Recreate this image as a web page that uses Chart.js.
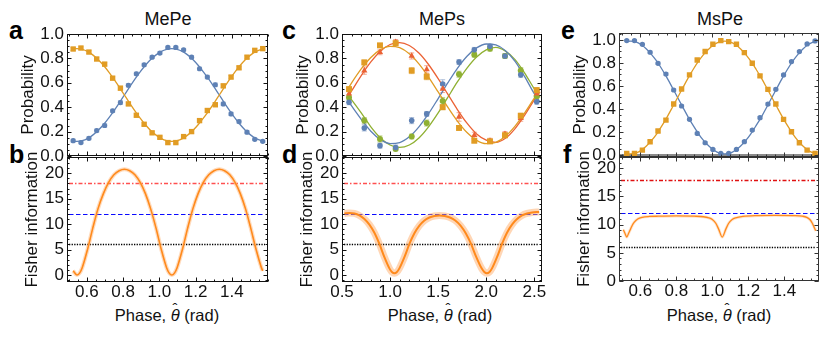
<!DOCTYPE html>
<html><head><meta charset="utf-8">
<script src="https://cdn.jsdelivr.net/npm/chart.js@4.4.1/dist/chart.umd.min.js"></script>
<style>
html,body{margin:0;padding:0;background:#fff;}
body{width:831px;height:337px;position:relative;overflow:hidden;font-family:"Liberation Sans",Arial,sans-serif;color:#111;}
canvas{position:absolute;}
.t{position:absolute;font-size:18px;line-height:18px;white-space:nowrap;transform:translateX(-50%);}
.l{position:absolute;font-size:25px;line-height:25px;font-weight:bold;color:#000;}
.xt{position:absolute;font-size:16.5px;line-height:16px;white-space:nowrap;transform:translateX(-50%);}
.th{font-style:italic;position:relative;display:inline-block;}
.hc{position:absolute;left:0.12em;top:-0.42em;font-style:normal;font-size:0.9em;}
</style></head><body>
<div class="t" style="left:168px;top:10px">MePe</div>
<div class="t" style="left:442px;top:10px">MePs</div>
<div class="t" style="left:720px;top:10px">MsPe</div>
<div class="l" style="left:9px;top:18px">a</div>
<div class="l" style="left:9px;top:142px">b</div>
<div class="l" style="left:282px;top:18px">c</div>
<div class="l" style="left:282px;top:142px">d</div>
<div class="l" style="left:561px;top:18px">e</div>
<div class="l" style="left:563px;top:142px">f</div>
<div class="xt" style="left:167px;top:307px">Phase, <span class="th">θ<span class="hc">ˆ</span></span> (rad)</div>
<div class="xt" style="left:440px;top:307px">Phase, <span class="th">θ<span class="hc">ˆ</span></span> (rad)</div>
<div class="xt" style="left:719px;top:307px">Phase, <span class="th">θ<span class="hc">ˆ</span></span> (rad)</div>
<canvas id="cA" width="280" height="170" style="left:0px;top:0px"></canvas>
<canvas id="cB" width="280" height="196" style="left:0px;top:141px"></canvas>
<canvas id="cC" width="280" height="170" style="left:275px;top:0px"></canvas>
<canvas id="cD" width="280" height="196" style="left:275px;top:141px"></canvas>
<canvas id="cE" width="279" height="170" style="left:552px;top:0px"></canvas>
<canvas id="cF" width="279" height="196" style="left:552px;top:141px"></canvas>
<script>
// ---------- data ----------
// Panel a (MePe): measured probabilities
const thetaA = [0.524,0.567,0.611,0.654,0.698,0.742,0.785,0.829,0.873,0.916,0.960,1.003,1.047,1.091,1.134,1.178,1.222,1.265,1.309,1.353,1.396,1.440,1.484,1.527,1.571];
const orangeA = [0.877,0.885,0.852,0.795,0.753,0.638,0.556,0.427,0.334,0.260,0.190,0.153,0.110,0.110,0.159,0.200,0.290,0.373,0.420,0.575,0.647,0.723,0.810,0.866,0.880];
const blueA = [0.126,0.110,0.145,0.208,0.250,0.370,0.438,0.580,0.674,0.748,0.810,0.844,0.890,0.890,0.871,0.810,0.715,0.647,0.584,0.427,0.345,0.282,0.195,0.137,0.120];
const errA = [0.012,0.010,0.012,0.013,0.014,0.013,0.015,0.014,0.013,0.012,0.011,0.010,0.010,0.010,0.011,0.012,0.013,0.014,0.015,0.014,0.013,0.013,0.012,0.011,0.010];
// Panel a fitted curves
const fitThetaA = [0.524,0.545,0.574,0.603,0.632,0.661,0.691,0.720,0.749,0.778,0.807,0.836,0.865,0.894,0.923,0.952,0.982,1.011,1.040,1.069,1.098,1.127,1.156,1.185,1.214,1.243,1.273,1.302,1.331,1.360,1.389,1.418,1.447,1.476,1.505,1.534,1.564,1.571];
const fitOrangeA = [0.877,0.880,0.874,0.857,0.829,0.791,0.744,0.690,0.630,0.566,0.500,0.434,0.370,0.310,0.256,0.209,0.171,0.143,0.126,0.120,0.126,0.143,0.171,0.209,0.256,0.310,0.370,0.434,0.500,0.566,0.630,0.690,0.744,0.791,0.829,0.857,0.874,0.877];
const fitBlueA = [0.123,0.120,0.126,0.143,0.171,0.209,0.256,0.310,0.370,0.434,0.500,0.566,0.630,0.690,0.744,0.791,0.829,0.857,0.874,0.880,0.874,0.857,0.829,0.791,0.744,0.690,0.630,0.566,0.500,0.434,0.370,0.310,0.256,0.209,0.171,0.143,0.126,0.123];
// Panel b: Fisher information
const fisherThetaB = [0.524,0.545,0.5595,0.574,0.603,0.632,0.661,0.691,0.720,0.749,0.778,0.807,0.836,0.865,0.894,0.923,0.952,0.982,1.011,1.040,1.0545,1.069,1.0835,1.098,1.127,1.156,1.185,1.214,1.243,1.273,1.302,1.331,1.360,1.389,1.418,1.447,1.476,1.505,1.534,1.564,1.571];
const fisherB = [0.82,0,0.37,1.43,4.97,9.17,13.0,16.0,18.2,19.7,20.5,20.8,20.5,19.7,18.2,16.0,13.0,9.17,4.97,1.43,0.37,0,0.37,1.43,4.97,9.17,13.0,16.0,18.2,19.7,20.5,20.8,20.5,19.7,18.2,16.0,13.0,9.17,5.05,1.40,0.82];
// Panel c (MePs)
const thetaC = [0.573,0.732,0.895,1.058,1.225,1.381,1.547,1.717,1.876,2.039,2.195,2.359,2.525];
const orangeC = [0.548,0.767,0.907,0.925,0.700,0.650,0.400,0.230,0.125,0.120,0.170,0.330,0.540];
const redC = [0.510,0.700,0.850,0.934,0.820,0.710,0.550,0.320,0.170,0.125,0.180,0.310,0.510];
const blueC = [0.440,0.230,0.085,0.070,0.290,0.345,0.590,0.770,0.870,0.900,0.820,0.665,0.445];
const greenC = [0.480,0.290,0.140,0.058,0.160,0.270,0.450,0.670,0.830,0.880,0.820,0.700,0.490];
const errOrangeC = [0.020,0.020,0.015,0.015,0.025,0.025,0.020,0.020,0.015,0.015,0.020,0.020,0.020];
const errRedC = [0.030,0.030,0.020,0.020,0.025,0.030,0.030,0.035,0.025,0.020,0.020,0.025,0.030];
const errBlueC = [0.020,0.025,0.020,0.020,0.025,0.020,0.035,0.020,0.020,0.015,0.015,0.020,0.020];
const errGreenC = [0.020,0.025,0.025,0.015,0.020,0.025,0.030,0.025,0.020,0.020,0.020,0.025,0.020];
const fitThetaC = [0.56,0.6,0.7,0.8,0.9,1.0,1.1,1.2,1.3,1.4,1.5,1.6,1.7,1.8,1.9,2.0,2.1,2.2,2.3,2.4,2.5,2.56];
const fitOrangeC = [0.550,0.600,0.714,0.808,0.872,0.899,0.888,0.838,0.755,0.647,0.525,0.400,0.286,0.192,0.128,0.101,0.112,0.162,0.245,0.353,0.475,0.550];
const fitRedC = [0.481,0.533,0.659,0.771,0.859,0.914,0.930,0.906,0.844,0.750,0.634,0.507,0.381,0.269,0.181,0.130,0.112,0.145,0.225,0.335,0.460,0.525];
const fitBlueC = [0.455,0.410,0.301,0.203,0.134,0.102,0.110,0.157,0.239,0.347,0.471,0.599,0.719,0.818,0.886,0.918,0.910,0.863,0.775,0.650,0.510,0.440];
const fitGreenC = [0.500,0.460,0.353,0.239,0.148,0.090,0.070,0.090,0.148,0.239,0.353,0.480,0.607,0.721,0.812,0.870,0.890,0.860,0.790,0.680,0.550,0.480];
// Panel d: Fisher information
const fisherThetaD = [0.524,0.577,0.629,0.681,0.733,0.785,0.837,0.889,0.941,0.993,1.019,1.045,1.071,1.097,1.149,1.201,1.253,1.305,1.357,1.409,1.461,1.513,1.568,1.623,1.678,1.733,1.787,1.842,1.897,1.952,1.980,2.007,2.034,2.060,2.112,2.164,2.216,2.268,2.320,2.372,2.424,2.476,2.550];
const fisherD = [12.1,12.2,12.1,11.7,11.0,9.9,8.3,6.1,3.5,1.3,0.6,0.35,0.6,1.3,3.5,6.1,8.2,9.7,10.7,11.3,11.6,11.7,11.6,11.3,10.7,9.7,8.2,6.1,3.5,1.3,0.6,0.35,0.6,1.3,3.5,6.1,8.3,9.9,11.0,11.7,12.1,12.3,12.4];
// Panel e (MsPe)
const thetaE = [0.524,0.567,0.611,0.654,0.698,0.742,0.785,0.829,0.873,0.916,0.960,1.003,1.047,1.091,1.134,1.178,1.222,1.265,1.309,1.353,1.396,1.440,1.484,1.527,1.571];
const blueE = [0.994,0.994,0.962,0.893,0.797,0.704,0.565,0.426,0.310,0.188,0.107,0.049,0.014,0.014,0.049,0.116,0.217,0.325,0.443,0.571,0.696,0.812,0.899,0.965,0.991];
const orangeE = [0.014,0.014,0.043,0.116,0.209,0.304,0.443,0.574,0.696,0.826,0.899,0.962,0.994,0.985,0.962,0.890,0.797,0.688,0.571,0.443,0.310,0.203,0.107,0.043,0.014];
const errE = [0.008,0.008,0.009,0.010,0.010,0.011,0.011,0.011,0.010,0.010,0.009,0.008,0.008,0.008,0.008,0.009,0.010,0.011,0.011,0.011,0.010,0.010,0.009,0.008,0.008];
const fitThetaE = [0.524,0.545,0.574,0.603,0.632,0.661,0.691,0.720,0.749,0.778,0.807,0.836,0.865,0.894,0.923,0.952,0.982,1.011,1.040,1.069,1.098,1.127,1.156,1.185,1.214,1.243,1.273,1.302,1.331,1.360,1.389,1.418,1.447,1.476,1.505,1.534,1.564,1.571];
const fitBlueE = [0.986,0.990,0.983,0.960,0.924,0.875,0.815,0.745,0.668,0.585,0.500,0.415,0.332,0.255,0.185,0.125,0.076,0.040,0.017,0.010,0.017,0.040,0.076,0.125,0.185,0.255,0.332,0.415,0.500,0.585,0.668,0.745,0.815,0.875,0.924,0.960,0.983,0.986];
const fitOrangeE = [0.014,0.010,0.017,0.040,0.076,0.125,0.185,0.255,0.332,0.415,0.500,0.585,0.668,0.745,0.815,0.875,0.924,0.960,0.983,0.990,0.983,0.960,0.924,0.875,0.815,0.745,0.668,0.585,0.500,0.415,0.332,0.255,0.185,0.125,0.076,0.040,0.017,0.014];
// Panel f: Fisher information
const fisherThetaF = [0.505,0.515,0.524,0.535,0.545,0.555,0.565,0.585,0.610,0.650,0.700,0.800,0.900,0.950,0.980,1.000,1.020,1.035,1.055,1.075,1.090,1.110,1.130,1.170,1.250,1.350,1.450,1.500,1.525,1.542,1.555,1.565,1.575];
const fisherF = [9.1,8.4,7.8,8.5,9.2,9.9,10.4,11.0,11.3,11.45,11.5,11.55,11.5,11.4,11.2,10.9,10.2,9.2,7.8,9.2,10.2,10.9,11.2,11.45,11.6,11.65,11.6,11.5,11.3,10.9,10.3,9.6,8.9];
// Reference levels (horizontal lines) and tick labels
const refLevels = [18, 12, 6];
const probTicks = [0, 0.2, 0.4, 0.6, 0.8, 1.0];
const fisherTicks = [0, 5, 10, 15, 20];
const phaseTicksAB = [0.6, 0.8, 1.0, 1.2, 1.4];
const phaseTicksCD = [0.5, 1.0, 1.5, 2.0, 2.5];
const phaseTicksEF = [0.6, 0.8, 1.0, 1.2, 1.4];

// ---------- styling ----------
const C = {blue:'#5E81B5', orange:'#E19C24', green:'#8FB032', red:'#EB6235',
  blueE:'rgba(94,129,181,0.5)', orangeE:'rgba(225,156,36,0.5)', greenE:'rgba(143,176,50,0.55)', redE:'rgba(235,98,53,0.55)',
  fisher:'#FF8A1C'};
Chart.defaults.font.family = '"Liberation Sans", Arial, sans-serif';
Chart.defaults.color = '#111';

const pts = (xs, ys) => xs.map((x, i) => ({x, y: ys[i]}));

const framePlugin = {
  id: 'frame',
  beforeDatasetsDraw(chart, args, opts) {
    const {ctx, chartArea: a, scales: {x, y}} = chart;
    (opts.refs || []).forEach(r => {
      const py = Math.round(y.getPixelForValue(r.value)) + 0.5;
      ctx.save(); ctx.strokeStyle = r.color; ctx.lineWidth = r.width || 1.2; ctx.setLineDash(r.dash);
      ctx.beginPath(); ctx.moveTo(a.left + 2, py); ctx.lineTo(a.right - 3, py); ctx.stroke(); ctx.restore();
    });
    if (opts.zeroLine) {
      const py = y.getPixelForValue(0);
      ctx.save(); ctx.strokeStyle = opts.zeroLine.color; ctx.lineWidth = opts.zeroLine.width;
      ctx.beginPath(); ctx.moveTo(a.left, py); ctx.lineTo(a.right, py); ctx.stroke(); ctx.restore();
    }
    chart.data.datasets.forEach(ds => {
      if (!ds.errors) return;
      ctx.save(); ctx.strokeStyle = ds.errorColor; ctx.lineWidth = 1;
      ds.data.forEach((p, j) => {
        const e = ds.errors[j], px = x.getPixelForValue(p.x);
        const y1 = y.getPixelForValue(p.y - e), y2 = y.getPixelForValue(p.y + e);
        ctx.beginPath();
        ctx.moveTo(px, y1); ctx.lineTo(px, y2);
        ctx.moveTo(px - 2.5, y1); ctx.lineTo(px + 2.5, y1);
        ctx.moveTo(px - 2.5, y2); ctx.lineTo(px + 2.5, y2);
        ctx.stroke();
      });
      ctx.restore();
    });
  },
  afterDatasetsDraw(chart, args, opts) {
    const {ctx, chartArea: a, scales: {x, y}} = chart;
    ctx.save();
    ctx.strokeStyle = opts.color || '#111'; ctx.lineWidth = 1;
    const L = Math.round(a.left) + 0.5, R = Math.round(a.right) - 0.5, T = Math.round(a.top) + 0.5, B = Math.round(a.bottom) - 0.5;
    ctx.strokeRect(L, T, R - L, B - T);
    ctx.beginPath();
    const xt = (v, len) => { const p = Math.round(x.getPixelForValue(v)) + 0.5; ctx.moveTo(p, B); ctx.lineTo(p, B - len); ctx.moveTo(p, T); ctx.lineTo(p, T + len); };
    const yt = (v, len) => { const p = Math.round(y.getPixelForValue(v)) + 0.5; ctx.moveTo(L, p); ctx.lineTo(L + len, p); ctx.moveTo(R, p); ctx.lineTo(R - len, p); };
    x.ticks.forEach(t => xt(t.value, 4));
    y.ticks.forEach(t => yt(t.value, 4));
    if (opts.xMinor) for (let k = Math.ceil(x.min / opts.xMinor); k * opts.xMinor <= x.max; k++) xt(k * opts.xMinor, 2);
    if (opts.yMinor) for (let k = Math.ceil(y.min / opts.yMinor); k * opts.yMinor <= y.max; k++) yt(k * opts.yMinor, 2);
    ctx.stroke();
    ctx.restore();
  }
};
Chart.register(framePlugin);

function panel(o) {
  const padTop = o.plot.T - o.top, padRight = (o.left + o.w) - o.plot.R;
  const yW = o.plot.L - o.left, xH = (o.top + o.h) - o.plot.B;
  return new Chart(document.getElementById(o.id), {
    type: 'scatter',
    data: {datasets: o.datasets},
    options: {
      responsive: false, animation: false, events: [],
      layout: {padding: {top: padTop, right: padRight, left: 0, bottom: 0}},
      plugins: {legend: {display: false}, tooltip: {enabled: false},
        frame: {refs: o.refs || [], xMinor: o.xMinor, yMinor: o.yMinor, zeroLine: o.zeroLine, color: o.frameColor}},
      scales: {
        x: {type: 'linear', min: o.xMin, max: o.xMax,
          grid: {display: false, drawTicks: false}, border: {display: false},
          afterBuildTicks: s => { s.ticks = o.xTicks.map(v => ({value: v})); },
          afterFit: s => { s.height = xH; },
          ticks: {display: !!o.showX, padding: 0, autoSkip: false, maxRotation: 0, font: {size: 17}, color: '#111',
            callback: v => Number(v).toFixed(1)}},
        y: {type: 'linear', min: o.yMin, max: o.yMax,
          grid: {display: false, drawTicks: false}, border: {display: false},
          afterBuildTicks: s => { s.ticks = o.yTicks.map(v => ({value: v})); },
          afterFit: s => { s.width = yW; },
          ticks: {padding: 3, autoSkip: false, font: {size: 17}, color: '#111', callback: o.yFmt},
          title: {display: true, text: o.yTitle, font: {size: 17}, color: '#111', padding: {top: o.yTitlePad, bottom: 0}}}
      }
    }
  });
}

const fitLine = (xs, ys, color) => ({data: pts(xs, ys), showLine: true, borderColor: color, borderWidth: 1.3, pointRadius: 0, cubicInterpolationMode: 'monotone'});
const marks = (xs, ys, errs, color, ecolor, style, r) => ({data: pts(xs, ys), showLine: false, pointStyle: style, pointRadius: r, backgroundColor: color, borderColor: color, borderWidth: 0, errors: errs, errorColor: ecolor});
const fisherLine = (xs, ys, w) => ({data: pts(xs, ys), showLine: true, borderColor: C.fisher, borderWidth: w, pointRadius: 0, cubicInterpolationMode: 'monotone'});
const fisherBand = (xs, ys, w, c) => ({data: pts(xs, ys), showLine: true, borderColor: c, borderWidth: w, pointRadius: 0, cubicInterpolationMode: 'monotone'});
const refs = (red) => [
  {value: refLevels[0], color: red, dash: [4, 2, 1.5, 2], width: 1.3},
  {value: refLevels[1], color: '#0a0aff', dash: [4.5, 2.5], width: 1.2},
  {value: refLevels[2], color: '#000', dash: [1.3, 1.3], width: 1.4}];
const probFmt = v => Number(v).toFixed(1);
const intFmt = v => String(v);

panel({id: 'cA', left: 0, top: 0, w: 280, h: 170, plot: {L: 67, R: 268, T: 34, B: 156},
  xMin: 0.49, xMax: 1.60, yMin: 0, yMax: 1.0, xTicks: phaseTicksAB, yTicks: probTicks, showX: false,
  yFmt: probFmt, yTitle: 'Probability', yTitlePad: 18, xMinor: 0.05, yMinor: 0.05,
  datasets: [
    marks(thetaA, orangeA, errA, C.orange, C.orangeE, 'rect', 3.8),
    marks(thetaA, blueA, errA, C.blue, C.blueE, 'circle', 2.6),
    fitLine(fitThetaA, fitOrangeA, C.orange),
    fitLine(fitThetaA, fitBlueA, C.blue)]});

panel({id: 'cB', left: 0, top: 141, w: 280, h: 196, plot: {L: 67, R: 268, T: 157, B: 282},
  xMin: 0.49, xMax: 1.60, yMin: -1.38, yMax: 23.2, xTicks: phaseTicksAB, yTicks: fisherTicks, showX: true,
  yFmt: intFmt, yTitle: 'Fisher information', yTitlePad: 22, xMinor: 0.05, yMinor: 1,
  refs: refs('#ff5050'),
  datasets: [fisherLine(fisherThetaB, fisherB, 1.6), fisherBand(fisherThetaB, fisherB, 4, 'rgba(255,165,90,0.4)')]});

panel({id: 'cC', left: 275, top: 0, w: 280, h: 170, plot: {L: 342, R: 542, T: 34, B: 156},
  xMin: 0.5, xMax: 2.58, yMin: 0, yMax: 1.0, xTicks: phaseTicksCD, yTicks: probTicks, showX: false,
  yFmt: probFmt, yTitle: 'Probability', yTitlePad: 18, xMinor: 0.1, yMinor: 0.05,
  datasets: [
    marks(thetaC, orangeC, errOrangeC, C.orange, C.orangeE, 'rect', 4.2),
    marks(thetaC, redC, errRedC, C.red, C.redE, 'triangle', 3.6),
    marks(thetaC, blueC, errBlueC, C.blue, C.blueE, 'circle', 2.8),
    marks(thetaC, greenC, errGreenC, C.green, C.greenE, 'circle', 3.0),
    fitLine(fitThetaC, fitOrangeC, C.orange),
    fitLine(fitThetaC, fitRedC, C.red),
    fitLine(fitThetaC, fitBlueC, C.blue),
    fitLine(fitThetaC, fitGreenC, C.green)]});

panel({id: 'cD', left: 275, top: 141, w: 280, h: 196, plot: {L: 342, R: 542, T: 157, B: 282},
  xMin: 0.5, xMax: 2.58, yMin: -1.38, yMax: 23.2, xTicks: phaseTicksCD, yTicks: fisherTicks, showX: true,
  yFmt: intFmt, yTitle: 'Fisher information', yTitlePad: 22, xMinor: 0.1, yMinor: 1,
  refs: refs('#ff5050'),
  datasets: [fisherLine(fisherThetaD, fisherD, 2), fisherBand(fisherThetaD, fisherD, 7, 'rgba(255,165,90,0.45)')]});

panel({id: 'cE', left: 552, top: 0, w: 279, h: 170, plot: {L: 619, R: 819, T: 33, B: 157},
  xMin: 0.481, xMax: 1.593, yMin: -0.015, yMax: 1.06, xTicks: phaseTicksEF, yTicks: probTicks, showX: false,
  yFmt: probFmt, yTitle: 'Probability', yTitlePad: 18, xMinor: 0.05, yMinor: 0.05, frameColor: '#333',
  zeroLine: {color: '#8c8c8c', width: 2.2},
  datasets: [
    marks(thetaE, orangeE, errE, C.orange, C.orangeE, 'rect', 3.8),
    marks(thetaE, blueE, errE, C.blue, C.blueE, 'circle', 2.6),
    fitLine(fitThetaE, fitOrangeE, C.orange),
    fitLine(fitThetaE, fitBlueE, C.blue)]});

panel({id: 'cF', left: 552, top: 141, w: 279, h: 196, plot: {L: 619, R: 819, T: 157, B: 281},
  xMin: 0.481, xMax: 1.593, yMin: 0, yMax: 22, xTicks: phaseTicksEF, yTicks: fisherTicks, showX: true,
  yFmt: intFmt, yTitle: 'Fisher information', yTitlePad: 22, xMinor: 0.05, yMinor: 1, frameColor: '#333',
  refs: refs('#e01010'),
  datasets: [fisherLine(fisherThetaF, fisherF, 1.3), fisherBand(fisherThetaF, fisherF, 3, 'rgba(255,165,90,0.3)')]});
</script>
</body></html>
